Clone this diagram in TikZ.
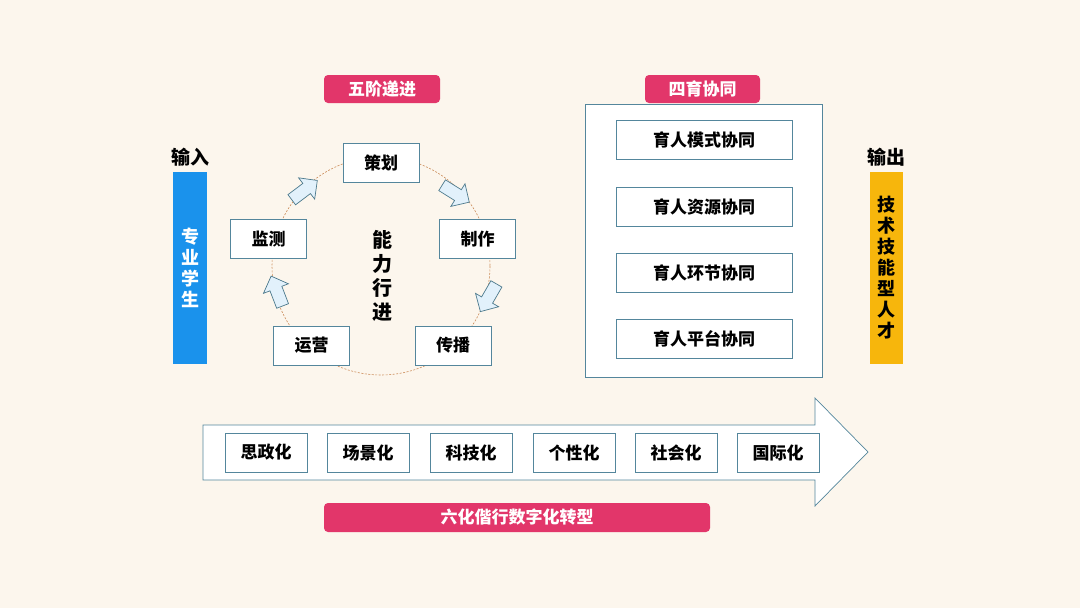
\documentclass[tikz,border=0pt]{standalone}
\usepackage{fontspec}
\setmainfont{Noto Sans CJK SC}
\usetikzlibrary{shapes.arrows}
\definecolor{bgc}{RGB}{252,246,237}
\definecolor{tagc}{RGB}{226,54,106}
\definecolor{bluec}{RGB}{26,146,236}
\definecolor{goldc}{RGB}{247,182,12}
\definecolor{linec}{RGB}{84,134,156}
\definecolor{ringc}{RGB}{204,142,92}
\definecolor{iceblue}{RGB}{226,241,251}
\begin{document}
\begin{tikzpicture}[x=1pt,y=-1pt,
  box/.style={draw=linec,fill=white,line width=0.7pt,minimum width=76pt,minimum height=39pt,inner sep=0pt,
    font=\bfseries\fontsize{17}{20}\selectfont},
  wbox/.style={box,minimum width=176pt},
  sbox/.style={box,minimum width=82pt},
  tag/.style={fill=tagc,rounded corners=4pt,minimum height=28pt,inner sep=0pt,text=white,
    font=\bfseries\fontsize{17}{20}\selectfont},
  bar/.style={minimum width=34pt,minimum height=192pt,inner sep=0pt,align=center,
    font=\bfseries\fontsize{18}{21}\selectfont},
  hd/.style={font=\bfseries\fontsize{19}{22}\selectfont,inner sep=0pt},
  ha/.style={single arrow,draw=linec!90!black,fill=iceblue,line width=0.7pt,minimum height=32pt,
    single arrow head extend=7pt,single arrow head indent=0pt,inner sep=6pt}]
  \fill[bgc] (0,0) rectangle (1080,608);
  % left: input
  \node[hd] (inl) at (190,157) {输入};
  \node[bar,fill=bluec,text=white] (stu) at (190,268) {专\\业\\学\\生};
  % ring of five steps
  \coordinate (c) at (381,266);
  \draw[ringc,line width=0.6pt,dash pattern=on 2pt off 1.5pt] (c) circle (109);
  \node[ha,rotate=37] (a1) at (302,192) {};
  \node[ha,rotate=-32] (a2) at (453,192) {};
  \node[ha,rotate=-120] (a3) at (490,295) {};
  \node[ha,rotate=111] (a4) at (278,294) {};
  \node[box] (plan) at (381,162.5) {策划};
  \node[box] (make) at (477.5,239) {制作};
  \node[box] (cast) at (453,345.5) {传播};
  \node[box] (oper) at (311.5,345.5) {运营};
  \node[box] (moni) at (268.5,239) {监测};
  \node[align=center,inner sep=0pt,font=\bfseries\fontsize{20}{24}\selectfont] (core) at (382,276) {能\\力\\行\\进};
  \node[tag,minimum width=116pt] (t1) at (382,89) {五阶递进};
  % right: four-way collaboration
  \node[draw=linec,fill=white,line width=0.7pt,minimum width=237pt,minimum height=273pt,inner sep=0pt] (frame) at (703.5,240.5) {};
  \node[tag,minimum width=115pt] (t2) at (702.5,89) {四育协同};
  \foreach \y/\txt [count=\k] in {140/育人模式协同,206.5/育人资源协同,272.5/育人环节协同,338.5/育人平台协同}
    \node[wbox] (w\k) at (704,\y) {\txt};
  % output
  \node[hd] (outl) at (886,157) {输出};
  \node[bar,fill=goldc,minimum width=33pt] (tal) at (886.5,268) {技\\术\\技\\能\\型\\人\\才};
  % bottom: six-fold transformation
  \draw[linec,fill=white,line width=0.7pt] (203,425) -- (815,425) -- (815,398) -- (868,452)
    -- (815,506) -- (815,480) -- (203,480) -- cycle;
  \foreach \x/\txt [count=\k] in {266/思政化,368/场景化,471/科技化,574/个性化,676/社会化,778/国际化}
    \node[sbox] (s\k) at (\x,452.5) {\txt};
  \node[tag,minimum width=386pt,minimum height=29pt] (t3) at (517,517.5) {六化偕行数字化转型};
\end{tikzpicture}
\end{document}
